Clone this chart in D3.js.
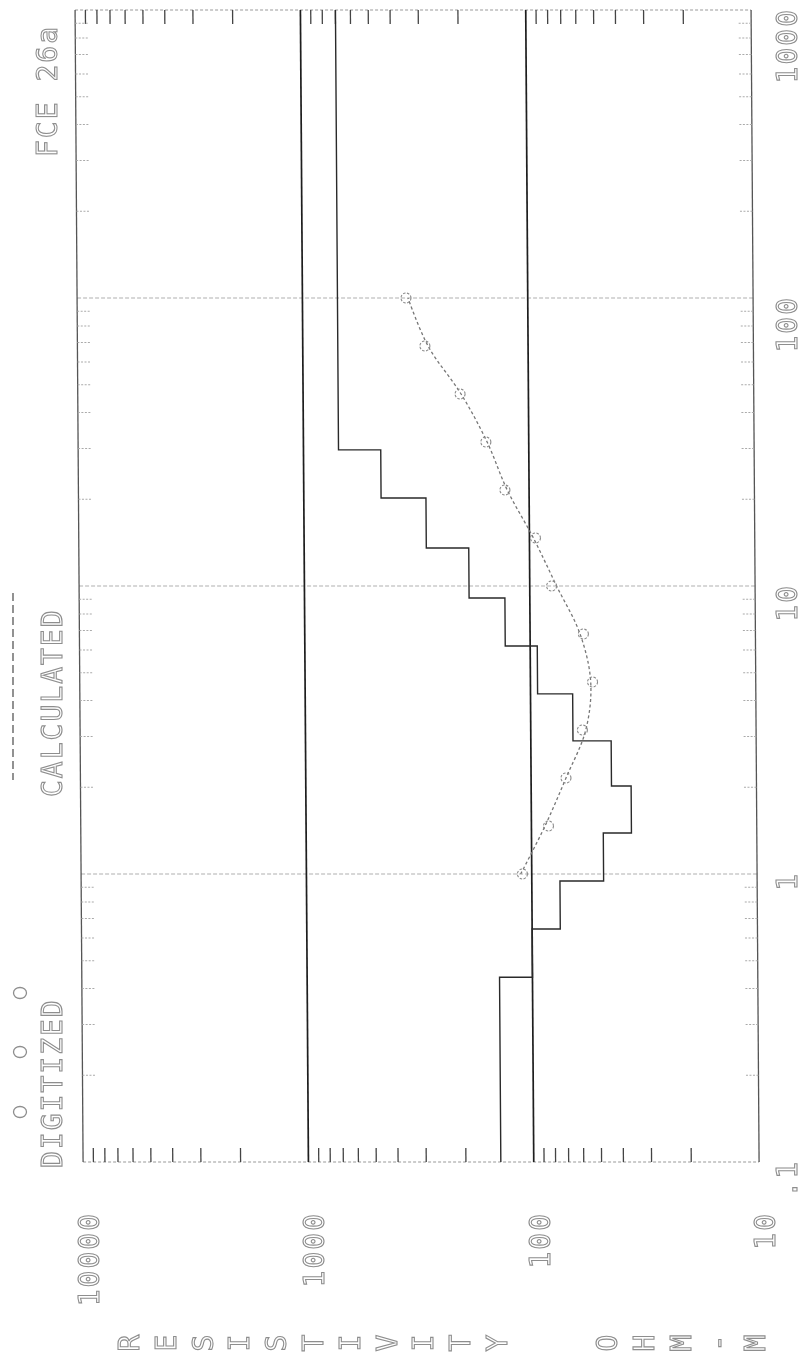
<!DOCTYPE html>
<html><head><meta charset="utf-8">
<script src="https://cdn.jsdelivr.net/npm/d3@7"></script>
<style>html,body{margin:0;padding:0;background:#fff}svg{display:block}.txt{filter:grayscale(100%)}</style>
</head><body>
<script>
// ---- data ----
const spacingTicks = [0.1, 1, 10, 100, 1000];
const spacingLabels = [".1", "1", "10", "100", "1000"];
const resTicks = [10000, 1000, 100, 10];
const resLabels = ["10000", "1000", "100", "10"];
// layered model: resistivity of each layer, and bottom depth of each layer (last to domain end)
const layerRes = [140, 100, 75, 48, 36, 44, 65, 93, 129, 186, 287, 454, 699];
const layerBottom = [0.438, 0.644, 0.946, 1.388, 2.02, 2.90, 4.22, 6.19, 9.08, 13.55, 20.2, 29.7];
const digSpacing = [1, 1.468, 2.154, 3.162, 4.642, 6.813, 10, 14.68, 21.54, 31.62, 46.42, 68.13, 100];
const digRes =     [110, 84, 70, 59, 53, 58, 80, 94, 128, 155, 201, 287, 347];
// calculated curve
const calcRes =    [112, 87, 70, 57, 54, 60, 76, 96, 125, 153, 199, 278, 340];
const title = "FCE 26a";
const axisTitle = "RESISTIVITY  OHM-M";

// ---- layout ----
const W = 810, H = 1360;
const svg = d3.select("body").append("svg").attr("width", W).attr("height", H);
const r = d3.scaleLog().domain([10, 10000]).range([751, 75]);
const z = d3.scaleLog().domain([0.1, 1000]).range([1162, 10]);
const skew = 0.00696;
const font = "'DejaVu Sans Mono', monospace";
const txtCol = "#8e8e8e";

const g = svg.append("g").attr("transform", `skewX(${Math.atan(skew) * 180 / Math.PI})`);

// horizontal grid lines (spacing decades)
g.selectAll("line.grid").data([1, 10, 100]).join("line")
  .attr("x1", r(10000)).attr("x2", r(10)).attr("y1", d => z(d)).attr("y2", d => z(d))
  .attr("stroke", "#b0b0b0").attr("stroke-width", 1.1).attr("stroke-dasharray", "4,2");

// top / bottom frame
g.selectAll("line.tb").data([0.1, 1000]).join("line")
  .attr("x1", r(10000)).attr("x2", r(10)).attr("y1", d => z(d)).attr("y2", d => z(d))
  .attr("stroke", "#9a9a9a").attr("stroke-width", 1.1).attr("stroke-dasharray", "3,2");

// left / right frame
g.selectAll("line.lr").data([10000, 10]).join("line")
  .attr("x1", d => r(d)).attr("x2", d => r(d)).attr("y1", z(1000)).attr("y2", z(0.1))
  .attr("stroke", "#555").attr("stroke-width", 1.3);

// resistivity decade lines
g.selectAll("line.dec").data([1000, 100]).join("line")
  .attr("x1", d => r(d)).attr("x2", d => r(d)).attr("y1", z(1000)).attr("y2", z(0.1))
  .attr("stroke", "#1e1e1e").attr("stroke-width", 1.7);

// minor resistivity ticks on top and bottom edges
const resMinor = [];
[10, 100, 1000].forEach(b => { for (let k = 2; k <= 9; k++) resMinor.push(b * k); });
g.selectAll("line.tbot").data(resMinor).join("line")
  .attr("x1", d => r(d)).attr("x2", d => r(d)).attr("y1", z(0.1)).attr("y2", z(0.1) - 14)
  .attr("stroke", "#444").attr("stroke-width", 1.3);
g.selectAll("line.ttop").data(resMinor).join("line")
  .attr("x1", d => r(d)).attr("x2", d => r(d)).attr("y1", z(1000)).attr("y2", z(1000) + 14)
  .attr("stroke", "#444").attr("stroke-width", 1.3);

// minor spacing ticks on left and right edges
const spMinor = [];
[0.1, 1, 10, 100].forEach(b => { for (let k = 2; k <= 9; k++) spMinor.push(b * k); });
g.selectAll("line.tl").data(spMinor).join("line")
  .attr("x1", r(10000)).attr("x2", r(10000) + 13).attr("y1", d => z(d)).attr("y2", d => z(d))
  .attr("stroke", "#aaa").attr("stroke-width", 1).attr("stroke-dasharray", "2,1.5");
g.selectAll("line.tr").data(spMinor).join("line")
  .attr("x1", r(10)).attr("x2", r(10) - 13).attr("y1", d => z(d)).attr("y2", d => z(d))
  .attr("stroke", "#aaa").attr("stroke-width", 1).attr("stroke-dasharray", "2,1.5");

// layered model step line
const stepPts = [];
layerRes.forEach((v, i) => {
  const top = i === 0 ? 0.1 : layerBottom[i - 1];
  const bot = i < layerBottom.length ? layerBottom[i] : 1000;
  stepPts.push([v, top], [v, bot]);
});
g.append("path").datum(stepPts)
  .attr("d", d3.line().x(d => r(d[0])).y(d => z(d[1])))
  .attr("fill", "none").attr("stroke", "#2a2a2a").attr("stroke-width", 1.4);

// calculated curve
g.append("path").datum(digSpacing.map((s, i) => [calcRes[i], s]))
  .attr("d", d3.line().x(d => r(d[0])).y(d => z(d[1])).curve(d3.curveCatmullRom))
  .attr("fill", "none").attr("stroke", "#777").attr("stroke-width", 1.3).attr("stroke-dasharray", "3,2.5");

g.selectAll("circle.dig").data(digSpacing.map((s, i) => [digRes[i], s])).join("circle")
  .attr("cx", d => r(d[0])).attr("cy", d => z(d[1])).attr("r", 5)
  .attr("fill", "none").attr("stroke", "#8a8a8a").attr("stroke-width", 1.1).attr("stroke-dasharray", "2.5,1.5");

// ---- text ----
const tg = svg.append("g").attr("class", "txt");
function rotText(x, y, s, anchor) {
  return tg.append("text").attr("transform", `translate(${x},${y}) rotate(-90)`)
    .attr("text-anchor", anchor || "start").attr("font-family", font).attr("font-size", 28)
    .attr("letter-spacing", 2).attr("fill", "#fff").attr("stroke", txtCol).attr("stroke-width", 1.1)
    .text(s);
}
// spacing labels on the right
spacingTicks.forEach((v, i) => rotText(797, z(v) - 2, spacingLabels[i], "end"));
// resistivity labels at bottom
resTicks.forEach((v, i) => rotText(r(v) + 24, 1212, resLabels[i], "end"));
// title and legend texts
rotText(57, 157, title, "start");
rotText(62, 797, "CALCULATED", "start");
rotText(62, 1168, "DIGITIZED", "start");
// legend symbols
tg.append("line").attr("x1", 13).attr("x2", 13).attr("y1", 593).attr("y2", 780)
  .attr("stroke", "#777").attr("stroke-width", 1.6).attr("stroke-dasharray", "8,4");
tg.selectAll("ellipse.leg").data([993, 1052, 1112]).join("ellipse")
  .attr("cx", 20).attr("cy", d => d).attr("rx", 6.5).attr("ry", 5.5)
  .attr("fill", "none").attr("stroke", txtCol).attr("stroke-width", 1.3);
// axis title: stacked letters
axisTitle.split("").forEach((c, i) => {
  if (c === " ") return;
  tg.append("text").attr("transform", `translate(${129 + i * 36.8},1343) rotate(-90)`)
    .attr("text-anchor", "middle").attr("dy", "0.36em").attr("font-family", font).attr("font-size", 28)
    .attr("fill", "#fff").attr("stroke", txtCol).attr("stroke-width", 1.1).text(c);
});
</script>
</body></html>
